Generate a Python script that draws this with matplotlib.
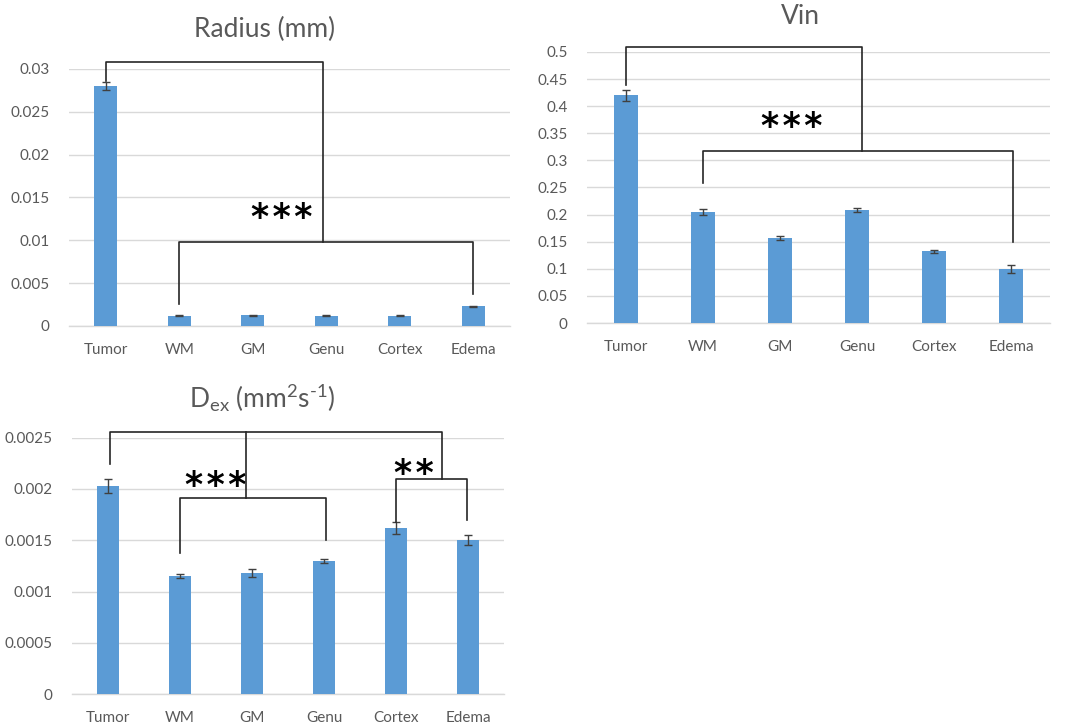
import numpy as np
import matplotlib
matplotlib.use('Agg')
import matplotlib.pyplot as plt

plt.rcParams['font.family'] = ['Lato', 'DejaVu Sans']
plt.rcParams['mathtext.default'] = 'regular'

# data
regions = ['Tumor', 'WM', 'GM', 'Genu', 'Cortex', 'Edema']

radius = [0.0280, 0.00120, 0.00125, 0.00120, 0.00120, 0.00230]
radius_err = [0.0005, 0.00004, 0.00006, 0.00004, 0.00004, 0.00007]

vin = [0.420, 0.205, 0.157, 0.209, 0.132, 0.100]
vin_err = [0.010, 0.005, 0.004, 0.004, 0.002, 0.007]

dex = [0.00203, 0.00115, 0.00118, 0.00130, 0.00162, 0.00150]
dex_err = [0.00007, 0.00002, 0.00004, 0.00002, 0.00006, 0.00005]

bar_color = '#5B9BD5'
text_color = '#595959'
grid_color = '#D9D9D9'
line_color = '#262626'

fig = plt.figure(figsize=(10.67, 7.27), dpi=100)


def bar_panel(rect, values, errors, ymax, step, ticklabels):
    ax = fig.add_axes(rect)
    x = np.arange(len(regions))
    ax.bar(x, values, width=0.31, color=bar_color, zorder=3,
           yerr=errors, error_kw=dict(ecolor='#404040', elinewidth=1,
                                      capsize=3, capthick=1, zorder=4))
    ax.set_xlim(-0.5, len(regions) - 0.5)
    ax.set_ylim(0, ymax)
    ticks = np.arange(0, ymax + step / 2, step)
    ax.set_yticks(ticks)
    ax.set_yticklabels(ticklabels)
    ax.set_xticks(x)
    ax.set_xticklabels(regions)
    ax.grid(True, axis='y', color=grid_color, linewidth=1, zorder=0)
    for s in ['top', 'right', 'left']:
        ax.spines[s].set_visible(False)
    ax.spines['bottom'].set_color(grid_color)
    ax.spines['bottom'].set_linewidth(1)
    ax.tick_params(length=0, labelsize=11, colors=text_color)
    ax.tick_params(axis='x', pad=12)
    ax.tick_params(axis='y', pad=14)
    return ax


def path(ax, xs, ys):
    ax.plot(xs, ys, color=line_color, linewidth=1.2, clip_on=False, zorder=5)


def stars(ax, x, y, n):
    # spaced, heavy asterisks
    s = '\u200a'.join(['*'] * n)
    ax.text(x, y, s, ha='center', va='center', fontsize=25,
            fontweight='bold', color='black', family='DejaVu Sans')


# --- Radius ---
ax1 = bar_panel([0.0647, 0.5516, 0.4133, 0.3535], radius, radius_err, 0.03, 0.005,
                ['0', '0.005', '0.01', '0.015', '0.02', '0.025', '0.03'])
path(ax1, [0, 0, 2.95, 2.95], [0.0286, 0.0308, 0.0308, 0.00985])
path(ax1, [1, 1, 5, 5], [0.0026, 0.00985, 0.00985, 0.0037])
stars(ax1, 2.4, 0.0126, 3)
fig.text(265 / 1067, 1 - 29 / 727, 'Radius (mm)', ha='center', va='center',
         fontsize=19, color=text_color)

# --- Vin ---
ax2 = bar_panel([0.5501, 0.5557, 0.434, 0.3728], vin, vin_err, 0.5, 0.05,
                ['0', '0.05', '0.1', '0.15', '0.2', '0.25', '0.3', '0.35',
                 '0.4', '0.45', '0.5'])
path(ax2, [0, 0, 3.06, 3.06], [0.439, 0.509, 0.509, 0.318])
path(ax2, [1, 1, 5.02, 5.02], [0.258, 0.318, 0.318, 0.15])
stars(ax2, 2.15, 0.362, 3)
fig.text(800 / 1067, 1 - 17 / 727, 'Vin', ha='center', va='center',
         fontsize=19, color=text_color)

# --- Dex ---
ax3 = bar_panel([0.0675, 0.045, 0.405, 0.353], dex, dex_err, 0.0025, 0.0005,
                ['0', '0.0005', '0.001', '0.0015', '0.002', '0.0025'])
path(ax3, [0.03, 0.03, 4.64, 4.64], [0.00224, 0.002557, 0.002557, 0.0021])
path(ax3, [1.92, 1.92], [0.002557, 0.001915])
path(ax3, [1, 1, 3.02, 3.02], [0.001373, 0.001915, 0.001915, 0.0015])
path(ax3, [4, 4, 4.99, 4.99], [0.00168, 0.0021, 0.0021, 0.0017])
stars(ax3, 1.5, 0.00203, 3)
stars(ax3, 4.25, 0.00215, 2)
fig.text(262 / 1067, 1 - 398 / 727, 'D$_{ex}$ (mm$^{2}$s$^{\u2010 1}$)', ha='center',
         va='center', fontsize=19, color=text_color)

fig.savefig('out.png', dpi=100)
